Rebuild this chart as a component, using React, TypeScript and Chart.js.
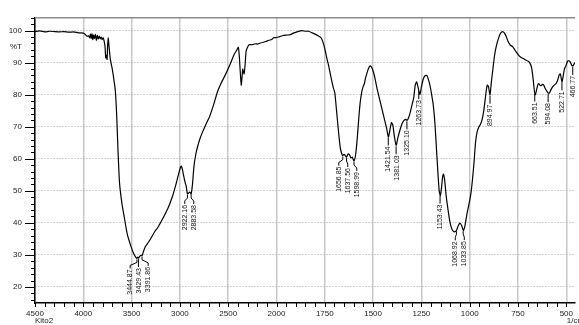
import { useEffect, useRef } from 'react';
import { Chart, registerables, LinearScale } from 'chart.js';

Chart.register(...registerables);

// ---- data ----
const WAVENUMBER = [
  4500, 4450, 4400, 4350, 4300, 4250, 4200, 4150, 4100, 4050, 4000, 3980, 3960, 3945, 3935, 3925, 3918, 3910, 3902, 3895,
  3885, 3875, 3865, 3855, 3845, 3835, 3825, 3815, 3805, 3795, 3785, 3775, 3768, 3760, 3754, 3748, 3742, 3735, 3720, 3700,
  3680, 3668, 3655, 3640, 3625, 3600, 3580, 3545, 3510, 3480, 3460, 3445, 3437, 3429, 3415, 3400, 3392, 3380, 3360, 3330,
  3300, 3260, 3230, 3180, 3125, 3080, 3050, 3020, 2995, 2985, 2975, 2960, 2945, 2935, 2922, 2910, 2900, 2890, 2884, 2870,
  2855, 2835, 2815, 2790, 2765, 2730, 2695, 2650, 2610, 2570, 2525, 2480, 2440, 2410, 2395, 2385, 2375, 2365, 2358, 2350,
  2345, 2335, 2325, 2315, 2305, 2285, 2250, 2220, 2195, 2160, 2110, 2080, 2050, 2030, 2010, 1990, 1970, 1950, 1930, 1910,
  1890, 1868, 1850, 1834, 1815, 1800, 1782, 1770, 1760, 1750, 1740, 1730, 1720, 1713, 1705, 1698, 1690, 1680, 1670, 1662,
  1657, 1650, 1644, 1638, 1630, 1622, 1615, 1608, 1599, 1590, 1582, 1575, 1568, 1560, 1552, 1545, 1540, 1533, 1525, 1515,
  1507, 1498, 1490, 1480, 1470, 1460, 1450, 1440, 1430, 1421, 1413, 1405, 1398, 1390, 1381, 1372, 1361, 1350, 1340, 1330,
  1325, 1318, 1310, 1300, 1290, 1282, 1275, 1268, 1258, 1250, 1240, 1230, 1222, 1214, 1206, 1197, 1189, 1180, 1172, 1165,
  1158, 1152, 1146, 1140, 1136, 1130, 1122, 1112, 1103, 1092, 1080, 1070, 1060, 1051, 1042, 1033, 1025, 1018, 1012, 1000,
  992, 985, 978, 970, 962, 954, 945, 937, 930, 923, 915, 909, 903, 895, 888, 880, 872, 863, 850, 840,
  830, 820, 810, 802, 790, 778, 768, 755, 745, 734, 720, 710, 699, 690, 680, 672, 665, 660, 654, 648,
  643, 637, 631, 624, 617, 610, 600, 594, 588, 580, 570, 562, 553, 545, 538, 531, 526, 522, 517, 510,
  502, 494, 485, 478, 470, 465, 458, 450,
];
const TRANSMITTANCE = [
  99.7, 99.9, 99.6, 99.8, 99.7, 99.6, 99.7, 99.5, 99.6, 99.3, 99.2, 98.8, 98.2, 98.4, 97.8, 98.9, 97.5, 99.0, 97.2, 98.6,
  97.6, 98.8, 97.0, 98.5, 97.4, 98.3, 97.5, 98.0, 97.2, 97.8, 96.8, 95.0, 91.5, 92.3, 91.0, 95.5, 97.8, 95.5, 91.0, 88.0,
  84.0, 81.0, 74.0, 62.0, 52.5, 46.0, 42.5, 36.5, 33.0, 30.5, 29.4, 28.9, 29.3, 29.0, 29.6, 29.9, 29.7, 30.8, 32.5, 33.8,
  35.2, 37.3, 38.5, 41.2, 44.5, 48.0, 51.0, 54.5, 57.3, 57.7, 56.8, 54.5, 52.5, 51.5, 49.0, 49.3, 49.6, 49.4, 48.9, 52.0,
  57.5, 61.5, 64.0, 66.5, 68.4, 70.8, 73.0, 77.0, 81.0, 83.8, 86.5, 89.5, 92.5, 94.0, 94.8, 92.0, 87.0, 83.0, 85.0, 88.0,
  87.5, 86.5, 89.5, 93.5, 94.5, 95.6, 95.6, 95.9, 95.8, 96.2, 96.6, 97.0, 97.2, 97.8, 97.8, 98.0, 98.4, 98.6, 98.7, 99.3,
  99.7, 100.0, 99.8, 99.8, 99.3, 98.9, 98.3, 97.8, 96.5, 94.3, 91.5, 89.0, 86.0, 84.0, 82.0, 80.5, 75.5, 69.0, 63.5, 61.5,
  61.0, 61.4, 61.0, 60.5, 61.5, 61.2, 60.3, 60.5, 59.3, 61.5, 66.5, 72.0, 77.0, 80.5, 82.5, 83.5, 85.0, 86.5, 88.0, 89.0,
  88.5, 87.0, 85.0, 82.0, 79.5, 77.0, 74.5, 72.0, 69.5, 66.8, 69.0, 71.3, 70.5, 67.0, 64.2, 66.5, 69.0, 71.0, 72.0, 72.3,
  72.0, 72.6, 74.0, 76.5, 79.0, 83.0, 84.0, 82.5, 80.0, 82.5, 85.0, 86.0, 86.0, 84.8, 83.0, 80.0, 77.0, 71.0, 63.0, 56.0,
  50.0, 48.5, 51.0, 54.5, 55.2, 53.5, 48.5, 44.0, 40.5, 38.0, 37.2, 37.5, 39.0, 39.9, 39.2, 37.6, 39.0, 41.5, 43.5, 47.0,
  50.0, 54.0, 58.7, 65.0, 68.3, 69.8, 70.7, 72.0, 74.0, 77.0, 81.0, 83.0, 82.5, 80.0, 84.0, 88.0, 92.0, 95.0, 97.8, 99.2,
  99.7, 99.2, 98.0, 96.7, 95.5, 95.0, 94.1, 93.0, 92.2, 91.6, 91.2, 90.8, 90.5, 90.0, 88.5, 85.0, 81.0, 80.0, 81.5, 83.0,
  83.5, 83.0, 82.8, 83.2, 83.0, 82.0, 81.0, 80.5, 80.5, 81.5, 82.5, 83.0, 83.5, 84.5, 86.0, 86.5, 85.0, 84.0, 85.5, 88.0,
  89.0, 90.4, 90.6, 90.0, 89.0, 89.0, 89.8, 90.2,
];
const X_TICKS = [4500, 4000, 3500, 3000, 2500, 2000, 1750, 1500, 1250, 1000, 750, 500];
const Y_TICKS = [20, 30, 40, 50, 60, 70, 80, 90, 100];
const Y_TITLE = '%T';
const SAMPLE_NAME = 'Kito2';
const X_UNIT = '1/cm';
const PEAK_LABELS = [
  '3444.87', '3429.43', '3391.86', '2922.16', '2883.58', '1656.85', '1637.56', '1598.99',
  '1421.54', '1381.03', '1325.10', '1263.73', '1153.43', '1068.92', '1033.85', '894.97',
  '663.51', '594.08', '522.71', '466.77',
];
const X_MIN = 455;
const X_MAX = 4500;
const Y_MIN = 15;
const Y_MAX = 104;

// Shimadzu-style piecewise wavenumber axis (x2 expansion below 2000 1/cm)
function toU(w: number) {
  return w >= 2000 ? (4500 - w) / 500 : 5 + (2000 - w) / 250;
}
function fromU(u: number) {
  return u <= 5 ? 4500 - u * 500 : 2000 - (u - 5) * 250;
}

class WavenumberScale extends LinearScale {
  static id = 'wavenumber';
  static defaults = (LinearScale as any).defaults;
  buildTicks() {
    return X_TICKS.map((v) => ({ value: v }));
  }
  getPixelForValue(v: number) {
    const span = toU(X_MIN) - toU(X_MAX);
    return (this as any).left + ((toU(v) - toU(X_MAX)) / span) * (this as any).width;
  }
  getValueForPixel(p: number) {
    const span = toU(X_MIN) - toU(X_MAX);
    return fromU(toU(X_MAX) + ((p - (this as any).left) / (this as any).width) * span);
  }
}
Chart.register(WavenumberScale as any);

function interpT(w: number) {
  for (let i = 0; i < WAVENUMBER.length - 1; i++) {
    const a = WAVENUMBER[i];
    const b = WAVENUMBER[i + 1];
    if (w <= a && w >= b) {
      const t = (a - w) / (a - b);
      return TRANSMITTANCE[i] + t * (TRANSMITTANCE[i + 1] - TRANSMITTANCE[i]);
    }
  }
  return TRANSMITTANCE[TRANSMITTANCE.length - 1];
}

const FONT = '"Liberation Sans", Arial, sans-serif';

const decorPlugin = {
  id: 'irDecor',
  afterDraw(chart: any) {
    const { ctx, chartArea } = chart;
    const xs = chart.scales.x;
    const ys = chart.scales.y;
    ctx.save();
    // top frame line
    ctx.strokeStyle = '#8c8c8c';
    ctx.lineWidth = 1.5;
    ctx.beginPath();
    ctx.moveTo(chartArea.left, chartArea.top);
    ctx.lineTo(chartArea.right, chartArea.top);
    ctx.stroke();

    // y tick marks
    ctx.strokeStyle = '#000';
    ctx.lineWidth = 1;
    for (let v = 16; v <= Y_MAX; v += 2) {
      const y = Math.round(ys.getPixelForValue(v)) + 0.5;
      const len = v % 10 === 0 ? 10 : 4;
      ctx.beginPath();
      ctx.moveTo(chartArea.left - len, y);
      ctx.lineTo(chartArea.left, y);
      ctx.stroke();
    }
    // x tick marks (every 100 above 2000, every 50 below)
    const xt: number[] = [];
    for (let w = 4500; w > 2000; w -= 100) xt.push(w);
    for (let w = 2000; w >= X_MIN; w -= 50) xt.push(w);
    for (const w of xt) {
      const x = Math.round(xs.getPixelForValue(w)) + 0.5;
      ctx.beginPath();
      ctx.moveTo(x, chartArea.bottom);
      ctx.lineTo(x, chartArea.bottom + 4);
      ctx.stroke();
    }

    // peak labels
    const peaks = PEAK_LABELS.map((s) => {
      const w = parseFloat(s);
      const px = xs.getPixelForValue(w);
      const py = ys.getPixelForValue(interpT(w));
      return { s, px, py, tx: px };
    }).sort((a, b) => a.px - b.px);
    const GAP = 9;
    for (let it = 0; it < 60; it++) {
      for (let i = 1; i < peaks.length; i++) {
        const d = peaks[i].tx - peaks[i - 1].tx;
        if (d < GAP) {
          const m = (GAP - d) / 2;
          peaks[i].tx += m;
          peaks[i - 1].tx -= m;
        }
      }
    }
    ctx.font = `7px ${FONT}`;
    ctx.fillStyle = '#111';
    ctx.strokeStyle = '#000';
    ctx.lineWidth = 1;
    for (const p of peaks) {
      const bent = Math.abs(p.tx - p.px) > 1;
      ctx.beginPath();
      ctx.moveTo(p.px, p.py + 1);
      if (bent) {
        ctx.lineTo(p.px, p.py + 4);
        ctx.lineTo(p.tx, p.py + 7);
        ctx.lineTo(p.tx, p.py + 10);
      } else {
        ctx.lineTo(p.px, p.py + 9);
      }
      ctx.stroke();
      ctx.save();
      ctx.translate(p.tx, p.py + (bent ? 11 : 10));
      ctx.rotate(-Math.PI / 2);
      ctx.textAlign = 'right';
      ctx.textBaseline = 'middle';
      ctx.fillText(p.s, 0, 0);
      ctx.restore();
    }

    // sample name and unit
    ctx.font = `8px ${FONT}`;
    ctx.fillStyle = '#222';
    ctx.textBaseline = 'middle';
    ctx.textAlign = 'left';
    ctx.fillText(SAMPLE_NAME, xs.getPixelForValue(4500), 321);
    ctx.fillText(X_UNIT, xs.getPixelForValue(500) + 0.5, 321);
    ctx.restore();
  },
};

export default function App() {
  const ref = useRef<HTMLCanvasElement | null>(null);
  useEffect(() => {
    if (!ref.current) return;
    const chart = new Chart(ref.current, {
      type: 'line',
      data: {
        datasets: [
          {
            data: WAVENUMBER.map((w, i) => ({ x: w, y: TRANSMITTANCE[i] })),
            borderColor: '#000',
            borderWidth: 1.2,
            pointRadius: 0,
            tension: 0.2,
            fill: false,
          },
        ],
      },
      options: {
        animation: false,
        responsive: true,
        maintainAspectRatio: false,
        layout: { padding: { top: 11, left: 0, right: 0, bottom: 0 } },
        plugins: { legend: { display: false }, tooltip: { enabled: false } },
        scales: {
          x: {
            type: 'wavenumber' as any,
            min: X_MIN,
            max: X_MAX,
            afterFit: (s: any) => {
              s.height = 22;
            },
            grid: { color: '#c8c8c8', lineWidth: 1.5, drawTicks: false },
            border: { display: true, color: '#000', width: 1.5 },
            ticks: {
              autoSkip: false,
              maxRotation: 0,
              padding: 6,
              color: '#222',
              font: { family: FONT, size: 8 },
              callback: (v: any) => String(v),
            },
          },
          y: {
            type: 'linear',
            min: Y_MIN,
            max: Y_MAX,
            afterBuildTicks: (s: any) => {
              const t = Y_TICKS.map((v) => ({ value: v }));
              t.splice(t.length - 1, 0, { value: 95 });
              s.ticks = t;
            },
            afterFit: (s: any) => {
              s.width = 35;
            },
            grid: {
              color: (c: any) => (c.tick && c.tick.value === 95 ? 'rgba(0,0,0,0)' : '#a8a8a8'),
              lineWidth: 1,
              drawTicks: false,
            },
            border: { display: true, color: '#000', width: 1.5, dash: [1, 2] },
            ticks: {
              autoSkip: false,
              padding: 13,
              color: '#222',
              font: { family: FONT, size: 8 },
              callback: (v: any) => (v === 95 ? Y_TITLE : String(v)),
            },
          },
        },
      },
      plugins: [decorPlugin],
    });
    return () => chart.destroy();
  }, []);
  return (
    <div style={{ position: 'fixed', left: 0, top: 0, width: 579, height: 325, background: '#fff' }}>
      <canvas ref={ref} />
    </div>
  );
}
